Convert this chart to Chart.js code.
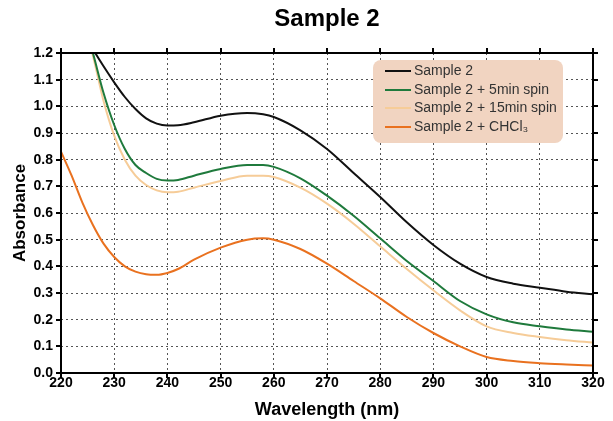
<!DOCTYPE html>
<html>
<head>
<meta charset="utf-8">
<script src="https://cdn.jsdelivr.net/npm/chart.js@4"></script>
<style>
  html, body { margin: 0; padding: 0; background: #fff; }
  #wrap { width: 613px; height: 421px; }
</style>
</head>
<body>
<div id="wrap"><canvas id="myChart"></canvas></div>
<script>
// wavelength (nm) and absorbance
const wavelengths = [220, 222, 224, 226, 228, 230, 232, 234, 236, 238, 240, 242, 245, 250, 255, 258, 260, 265, 270, 275, 280, 285, 290, 295, 300, 305, 310, 315, 320];
const sample2 =      [null, null, 1.29, 1.215, 1.15, 1.09, 1.035, 0.99, 0.955, 0.935, 0.928, 0.929, 0.94, 0.965, 0.975, 0.97, 0.96, 0.91, 0.84, 0.75, 0.66, 0.565, 0.48, 0.41, 0.36, 0.335, 0.32, 0.305, 0.295];
const spin5 =        [null, null, 1.34, 1.2, 1.05, 0.93, 0.84, 0.78, 0.75, 0.728, 0.722, 0.724, 0.74, 0.765, 0.78, 0.78, 0.773, 0.73, 0.665, 0.59, 0.505, 0.42, 0.345, 0.27, 0.22, 0.19, 0.175, 0.163, 0.155];
const spin15 =       [null, null, 1.33, 1.19, 1.02, 0.89, 0.8, 0.74, 0.705, 0.685, 0.678, 0.68, 0.695, 0.72, 0.74, 0.74, 0.735, 0.695, 0.635, 0.56, 0.475, 0.39, 0.31, 0.235, 0.175, 0.15, 0.135, 0.123, 0.114];
const chcl3 =        [0.83, 0.74, 0.64, 0.555, 0.485, 0.435, 0.4, 0.38, 0.37, 0.368, 0.375, 0.39, 0.425, 0.47, 0.5, 0.505, 0.5, 0.465, 0.41, 0.345, 0.28, 0.21, 0.15, 0.1, 0.06, 0.045, 0.037, 0.032, 0.028];

const seriesNames = ['Sample 2', 'Sample 2 + 5min spin', 'Sample 2 + 15min spin', 'Sample 2 + CHCl\u2083'];
const seriesValues = [sample2, spin5, spin15, chcl3];
const seriesColors = ['#111111', '#1f7a3c', '#f6cc98', '#e9711f'];

const xTicks = [220, 230, 240, 250, 260, 270, 280, 290, 300, 310, 320];

const FONT = '"Liberation Sans", Arial, sans-serif';

function toPoints(vals) {
  return wavelengths.map((w, i) => ({ x: w, y: vals[i] }));
}

const datasets = seriesValues.map((vals, i) => ({
  label: seriesNames[i],
  data: toPoints(vals),
  borderColor: seriesColors[i],
  backgroundColor: seriesColors[i],
  borderWidth: 2,
  pointRadius: 0,
  cubicInterpolationMode: 'monotone',
  fill: false
}));

// box round the plot, with tick marks on all four sides
const framePlugin = {
  id: 'frame',
  afterDatasetsDraw(chart) {
    const ctx = chart.ctx;
    const a = chart.chartArea;
    const xs = chart.scales.x, ys = chart.scales.y;
    ctx.save();
    ctx.strokeStyle = '#000';
    ctx.lineWidth = 2;
    ctx.strokeRect(a.left, a.top, a.right - a.left, a.bottom - a.top);
    ctx.beginPath();
    xs.ticks.forEach(t => {
      const px = Math.round(xs.getPixelForValue(t.value));
      ctx.moveTo(px, a.bottom); ctx.lineTo(px, a.bottom + 5);
      ctx.moveTo(px, a.top); ctx.lineTo(px, a.top - 5);
    });
    ys.ticks.forEach(t => {
      const py = Math.round(ys.getPixelForValue(t.value));
      ctx.moveTo(a.left, py); ctx.lineTo(a.left - 5, py);
      ctx.moveTo(a.right, py); ctx.lineTo(a.right + 5, py);
    });
    ctx.stroke();
    ctx.restore();
  }
};

// title centred over the plot, and the legend box in the upper right
const labelsPlugin = {
  id: 'labels',
  afterDraw(chart) {
    const ctx = chart.ctx;
    const a = chart.chartArea;
    ctx.save();
    ctx.fillStyle = '#000';
    ctx.font = 'bold 24px ' + FONT;
    ctx.textAlign = 'center';
    ctx.textBaseline = 'middle';
    ctx.fillText('Sample 2', (a.left + a.right) / 2, 19);

    const x = 373, y = 60, w = 190, h = 83, r = 8;
    ctx.fillStyle = '#f1d4c1';
    ctx.beginPath();
    ctx.roundRect(x, y, w, h, r);
    ctx.fill();
    ctx.font = '14px ' + FONT;
    ctx.textAlign = 'left';
    const rows = [71, 90, 108, 127];
    seriesNames.forEach((name, i) => {
      ctx.strokeStyle = seriesColors[i];
      ctx.lineWidth = 2;
      ctx.beginPath();
      ctx.moveTo(385, rows[i]); ctx.lineTo(411, rows[i]);
      ctx.stroke();
      ctx.fillStyle = '#333';
      ctx.fillText(name, 414, rows[i]);
    });
    ctx.restore();
  }
};

const tickFont = { family: FONT, size: 14, weight: 'bold' };

const config = {
  type: 'line',
  data: { datasets: datasets },
  plugins: [framePlugin, labelsPlugin],
  options: {
    responsive: true,
    maintainAspectRatio: false,
    animation: false,
    layout: { padding: { left: 0, right: 20, top: 53, bottom: 0 } },
    plugins: {
      legend: { display: false },
      tooltip: { enabled: false },
      title: { display: false }
    },
    scales: {
      x: {
        type: 'linear',
        min: 220,
        max: 320,
        afterBuildTicks: (scale) => { scale.ticks = xTicks.map(v => ({ value: v })); },
        afterFit: (scale) => { scale.height = 48; },
        grid: { color: '#555', lineWidth: 1, borderDash: [2, 3], drawTicks: false },
        border: { display: false, dash: [2, 3] },
        ticks: { color: '#000', font: tickFont, padding: 2, maxRotation: 0 },
        title: {
          display: true,
          text: 'Wavelength (nm)',
          color: '#000',
          font: { family: FONT, size: 18, weight: 'bold' },
          padding: { top: 0, bottom: 0 }
        }
      },
      y: {
        min: 0,
        max: 1.2,
        afterFit: (scale) => { scale.width = 61; },
        ticks: {
          stepSize: 0.1,
          color: '#000',
          font: tickFont,
          padding: 8,
          callback: (v) => v.toFixed(1)
        },
        grid: { color: '#555', lineWidth: 1, borderDash: [2, 3], drawTicks: false },
        border: { display: false, dash: [2, 3] },
        title: {
          display: true,
          text: 'Absorbance',
          color: '#000',
          font: { family: FONT, size: 17, weight: 'bold' },
          padding: { top: 10, bottom: 0 }
        }
      }
    }
  }
};

const myChart = new Chart(document.getElementById('myChart'), config);
</script>
</body>
</html>
